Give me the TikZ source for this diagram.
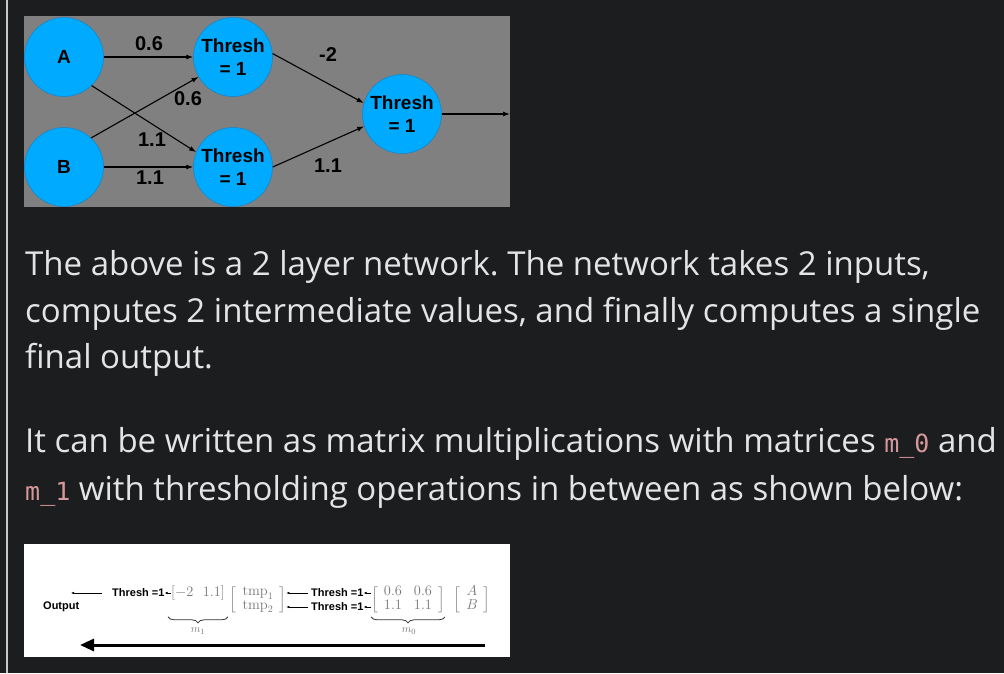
\documentclass[tikz,border=0pt]{standalone}
\usepackage{fontspec}
\usepackage{amsmath}
\usetikzlibrary{arrows.meta,decorations.pathreplacing,calc}
\newfontfamily\uifont{Open Sans}
\newfontfamily\codefont{DejaVu Sans Mono}
\newfontfamily\arialfont{Liberation Sans}
\frenchspacing
\definecolor{pagebg}{RGB}{28,29,31}
\definecolor{barcol}{RGB}{200,200,200}
\definecolor{paratext}{RGB}{228,228,228}
\definecolor{codecol}{RGB}{214,152,154}
\definecolor{imggray}{RGB}{128,128,128}
\definecolor{nodeblue}{RGB}{0,170,255}
\definecolor{nodeedge}{RGB}{20,130,200}
\definecolor{mathgray}{RGB}{120,120,120}
\tikzset{
  neuron/.style={circle, fill=nodeblue, draw=nodeedge, line width=0.5pt, minimum size=79pt, inner sep=0pt,
    font=\arialfont\bfseries\fontsize{19}{23}\selectfont, align=center, text=black},
  wlabel/.style={font=\arialfont\bfseries\fontsize{20}{22}\selectfont, inner sep=0pt, text=black},
  conn/.style={draw=black, line width=1.1pt, -{Latex[length=7pt,width=5pt]}},
  para/.style={font=\uifont\fontsize{33}{38}\selectfont, text=paratext, inner sep=0pt, anchor=base west},
  thr/.style={font=\arialfont\bfseries\fontsize{11}{13}\selectfont, inner sep=0pt, text=black},
  mth/.style={font=\fontsize{14.5}{16}\selectfont, inner sep=0pt, text=mathgray},
  smallarr/.style={draw=black, line width=0.5pt, -{Latex[length=3pt,width=2.5pt]}},
  brc/.style={draw=black!80, line width=0.8pt, decorate, decoration={brace, amplitude=6pt}},
  bigarr/.style={draw=black, line width=3pt, -{Triangle[length=14pt,width=12pt]}}
}
\newcommand{\code}[1]{{\codefont\fontsize{25}{28}\selectfont\color{codecol}#1}}
\begin{document}
\begin{tikzpicture}[x=1pt,y=-1pt]
\fill[pagebg] (0,0) rectangle (1004,673);
\useasboundingbox (0,0) rectangle (1004,673);
\draw[barcol, line width=2pt] (7,0) -- (7,673);

% ---- network picture ----
\fill[imggray] (24,16) rectangle (510,207);
\node[neuron] (A) at (64,57) {A};
\node[neuron] (B) at (64,167) {B};
\node[neuron] (T1) at (233,57) {Thresh\\= 1};
\node[neuron] (T2) at (233,167) {Thresh\\= 1};
\node[neuron] (O) at (402,114) {Thresh\\= 1};
\coordinate (outend) at (510,114);

\draw[conn] (A.east) -- (T1.west);
\draw[conn] (A.-46) -- (T2.158);
\draw[conn] (B.47) -- (T1.210);
\draw[conn] (B.east) -- (T2.west);
\draw[conn] (T1.5) -- (O.164);
\draw[conn] (T2.0) -- (O.198);
\draw[conn] (O.east) -- (outend);

\node[wlabel] (w1) at (149,44) {0.6};
\node[wlabel] (w2) at (188,99) {0.6};
\node[wlabel] (w3) at (152,140) {1.1};
\node[wlabel] (w4) at (150,178) {1.1};
\node[wlabel] (w5) at (328,55) {-2};
\node[wlabel] (w6) at (328,166) {1.1};

% ---- paragraphs ----
\node[para] (p1) at (25,275) {The above is a 2 layer network. The network takes 2 inputs,};
\node[para] (p2) at (25,322) {computes 2 intermediate values, and finally computes a single};
\node[para] (p3) at (25,368) {final output.};
\node[para] (q1) at (25,452) {It can be written as matrix multiplications with matrices \code{m\_0} and};
\node[para] (q2) at (25,500) {\code{m\_1} with thresholding operations in between as shown below:};

% ---- equation picture ----
\fill[white] (24,544) rectangle (510,657);
\renewcommand{\arraystretch}{0.85}
\setlength{\arraycolsep}{6pt}
\node[thr, anchor=base west] (outl) at (43,609) {Output};
\node[thr, anchor=west] (tha) at (112,593) {Thresh =1};
\node[mth] (mone) at (198,593) {$[-2\ \ 1.1]$};
\node[mth] (tmp) at (258,600) {$\left[\begin{array}{c}\mathrm{tmp}_1\\ \mathrm{tmp}_2\end{array}\right]$};
\node[thr, anchor=west] (thb1) at (311,593) {Thresh =1};
\node[thr, anchor=west] (thb2) at (311,607) {Thresh =1};
\node[mth] (mzero) at (408,600) {$\left[\begin{array}{cc}0.6&0.6\\ 1.1&1.1\end{array}\right]$};
\node[mth] (ab) at (472,600) {$\left[\begin{array}{c}A\\ B\end{array}\right]$};
\coordinate (outtip) at (71,593);

\draw[smallarr] ([xshift=-10pt]tha.west) -- (outtip);
\draw[smallarr] (mone.west) -- (tha.east);
\draw[smallarr] ([xshift=-3pt]thb1.west) -- (thb1.west -| tmp.east);
\draw[smallarr] ([xshift=-3pt]thb2.west) -- (thb2.west -| tmp.east);
\draw[smallarr] (mzero.west |- thb1) -- (thb1.east);
\draw[smallarr] (mzero.west |- thb2) -- (thb2.east);

\draw[brc] ($(mzero.east |- mzero.south)+(0,3)$) -- ($(mzero.west |- mzero.south)+(0,3)$);
\draw[brc] ($(mone.east |- mzero.south)+(3,3)$) -- ($(mone.west |- mzero.south)+(-3,3)$);
\node[mth, font=\fontsize{11}{13}\selectfont] (lm1) at (198,631) {$m_1$};
\node[mth, font=\fontsize{11}{13}\selectfont] (lm0) at (409,631) {$m_0$};

\coordinate (bs) at (485,645);
\coordinate (be) at (80,645);
\draw[bigarr] (bs) -- (be);
\end{tikzpicture}
\end{document}
